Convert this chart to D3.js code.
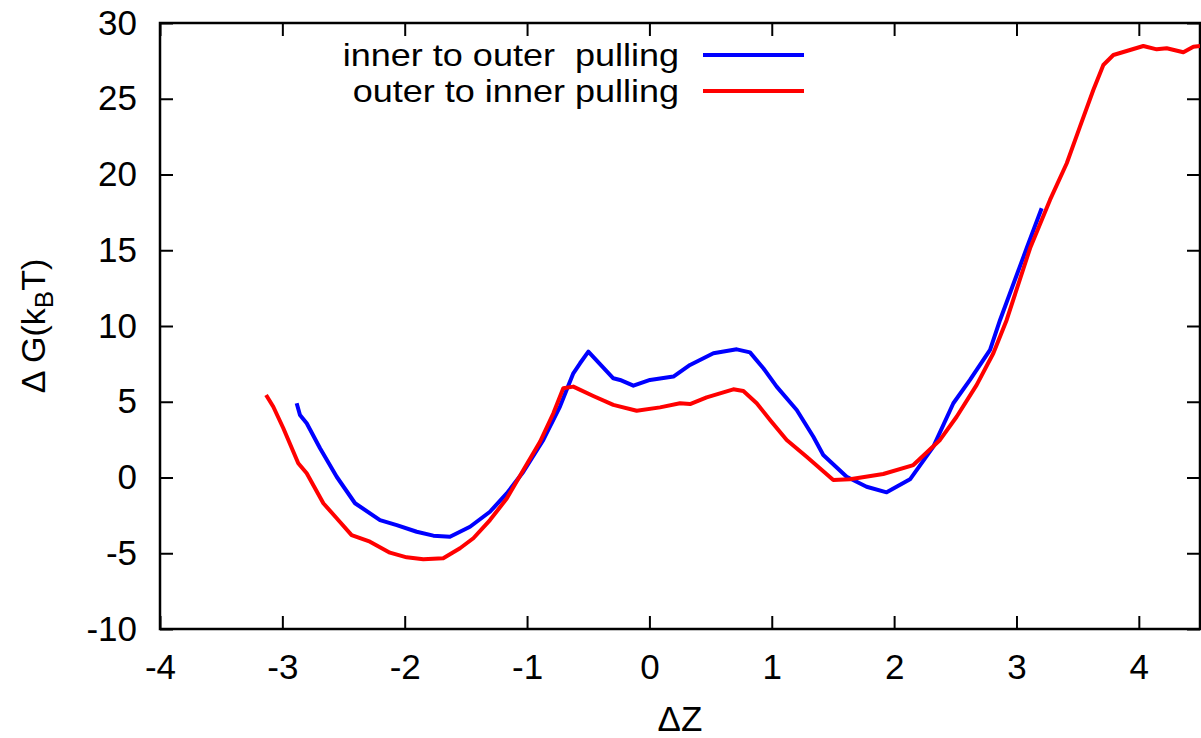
<!DOCTYPE html>
<html>
<head>
<meta charset="utf-8">
<script src="https://cdn.jsdelivr.net/npm/d3@7"></script>
<style>
    body { margin: 0; background: #fff; }
    svg text { font-family: "Liberation Sans", Arial, sans-serif; fill: #000; }
</style>
</head>
<body>
<svg id="plot" width="1201" height="738"></svg>
<script>
// inner to outer pulling (blue)
var blueZ = [-2.883, -2.856, -2.801, -2.692, -2.556, -2.406, -2.202, -2.065, -1.902, -1.766, -1.630,
    -1.466, -1.303, -1.166, -1.030, -0.867, -0.731, -0.622, -0.567, -0.499, -0.295, -0.240, -0.131,
    0.005, 0.196, 0.332, 0.523, 0.714, 0.822, 0.931, 1.040, 1.204, 1.340, 1.421, 1.612, 1.775,
    1.939, 2.130, 2.321, 2.484, 2.620, 2.784, 2.866, 3.083, 3.206];
var blueG = [4.90, 4.13, 3.58, 1.93, 0.05, -1.70, -2.81, -3.14, -3.58, -3.84, -3.91,
    -3.25, -2.26, -1.05, 0.38, 2.48, 4.68, 6.88, 7.54, 8.31, 6.55, 6.44, 6.06,
    6.44, 6.66, 7.43, 8.20, 8.46, 8.26, 7.21, 6.00, 4.46, 2.69, 1.49, 0.05, -0.61,
    -0.98, -0.12, 2.04, 4.90, 6.44, 8.42, 10.40, 15.13, 17.77];

// outer to inner pulling (red)
var redZ = [-3.133, -3.074, -2.992, -2.870, -2.801, -2.665, -2.556, -2.434, -2.284, -2.121, -1.984,
    -1.848, -1.685, -1.548, -1.439, -1.303, -1.166, -1.030, -0.894, -0.785, -0.704, -0.622, -0.459,
    -0.295, -0.104, 0.087, 0.250, 0.332, 0.468, 0.686, 0.768, 0.877, 0.986, 1.122, 1.285, 1.503,
    1.639, 1.911, 2.157, 2.375, 2.511, 2.675, 2.811, 2.920, 3.111, 3.274, 3.411, 3.519, 3.628,
    3.710, 3.792, 3.901, 4.037, 4.146, 4.228, 4.364, 4.446, 4.500];
var redG = [5.45, 4.67, 3.25, 0.94, 0.28, -1.70, -2.69, -3.80, -4.24, -4.96, -5.27,
    -5.40, -5.33, -4.67, -4.01, -2.81, -1.39, 0.49, 2.36, 4.24, 5.89, 6.00, 5.38,
    4.79, 4.41, 4.63, 4.90, 4.85, 5.29, 5.82, 5.71, 4.90, 3.80, 2.48, 1.37, -0.17,
    -0.12, 0.23, 0.82, 2.48, 4.01, 6.11, 8.20, 10.40, 15.13, 18.32, 20.74, 23.16, 25.58,
    27.23, 27.89, 28.15, 28.48, 28.26, 28.33, 28.07, 28.44, 28.48];

var xTicks = [-4, -3, -2, -1, 0, 1, 2, 3, 4];
var yTicks = [-10, -5, 0, 5, 10, 15, 20, 25, 30];

var seriesNames = ["inner to outer  pulling", "outer to inner pulling"];
var seriesColors = ["#0000ff", "#ff0000"];

const plot = d3.select("svg#plot");
const mLeft = 160, mRight = 1200, mTop = 23, mBottom = 629;
const tickFont = "35px";

let xScale = d3.scaleLinear().domain([-4, 4.5]).range([mLeft, mRight]);
let yScale = d3.scaleLinear().domain([-10, 30]).range([mBottom, mTop]);

// plain hyphen for negatives, like gnuplot
let fmt = d => String(d);

// clip for curves
plot.append("clipPath")
    .attr("id", "clip")
    .append("rect")
    .attr("x", mLeft).attr("y", mTop)
    .attr("width", mRight - mLeft).attr("height", mBottom - mTop);

// axes (ticks inward, mirrored)
let xAxis = d3.axisBottom(xScale).tickValues(xTicks).tickFormat(fmt)
    .tickSizeInner(-13).tickSizeOuter(0).tickPadding(25);
plot.append("g")
    .attr("class", "axis")
    .attr("transform", "translate(0," + mBottom + ")")
    .call(xAxis);

let xTop = d3.axisTop(xScale).tickValues(xTicks).tickSizeInner(-13).tickSizeOuter(0).tickFormat("");
plot.append("g")
    .attr("class", "axis")
    .attr("transform", "translate(0," + mTop + ")")
    .call(xTop);

let yAxis = d3.axisLeft(yScale).tickValues(yTicks).tickFormat(fmt)
    .tickSizeInner(-13).tickSizeOuter(0).tickPadding(23);
plot.append("g")
    .attr("class", "axis")
    .attr("transform", "translate(" + mLeft + ",0)")
    .call(yAxis);

let yRight = d3.axisRight(yScale).tickValues(yTicks).tickSizeInner(-13).tickSizeOuter(0).tickFormat("");
plot.append("g")
    .attr("class", "axis")
    .attr("transform", "translate(" + mRight + ",0)")
    .call(yRight);

plot.selectAll(".axis .domain").remove();
plot.selectAll(".axis line").attr("stroke", "#000").attr("stroke-width", 2);
plot.selectAll(".axis text")
    .style("font-size", tickFont)
    .style("font-family", "'Liberation Sans', Arial, sans-serif");

// frame
plot.append("rect")
    .attr("x", mLeft).attr("y", mTop)
    .attr("width", mRight - mLeft).attr("height", mBottom - mTop)
    .attr("fill", "none")
    .attr("stroke", "#000")
    .attr("stroke-width", 2.5);

// axis labels
plot.append("text")
    .attr("x", (mLeft + mRight) / 2)
    .attr("y", 731)
    .style("text-anchor", "middle")
    .style("font-size", tickFont)
    .text("ΔZ");

let yLabel = plot.append("text")
    .attr("transform", "translate(45," + (mTop + mBottom) / 2 + ") rotate(-90)")
    .style("text-anchor", "middle")
    .style("font-size", "34px");
yLabel.append("tspan").text("Δ G(k");
yLabel.append("tspan").text("B").attr("dy", 8).style("font-size", "26px");
yLabel.append("tspan").text("T)").attr("dy", -8);

// curves
let line = d3.line()
    .x(d => xScale(d[0]))
    .y(d => yScale(d[1]));

let series = [
    d3.zip(blueZ, blueG),
    d3.zip(redZ, redG)
];

let curves = plot.append("g").attr("clip-path", "url(#clip)");
series.forEach((s, i) => {
    curves.append("path")
        .datum(s)
        .attr("d", line)
        .attr("fill", "none")
        .attr("stroke", seriesColors[i])
        .attr("stroke-width", 4)
        .attr("stroke-linejoin", "round");
});

// legend (text is a bit wide in the original, so stretch it)
let legendY = [55, 91];
seriesNames.forEach((name, i) => {
    let t = plot.append("text")
        .attr("x", 679)
        .attr("y", legendY[i])
        .attr("dy", "0.35em")
        .style("text-anchor", "end")
        .style("font-size", "32px")
        .style("white-space", "pre")
        .text(name);
    let len = t.node().getComputedTextLength();
    t.attr("textLength", len * 36 / 32)
        .attr("lengthAdjust", "spacingAndGlyphs");
    plot.append("line")
        .attr("x1", 703).attr("x2", 804)
        .attr("y1", legendY[i]).attr("y2", legendY[i])
        .attr("stroke", seriesColors[i])
        .attr("stroke-width", 4);
});
</script>
</body>
</html>
